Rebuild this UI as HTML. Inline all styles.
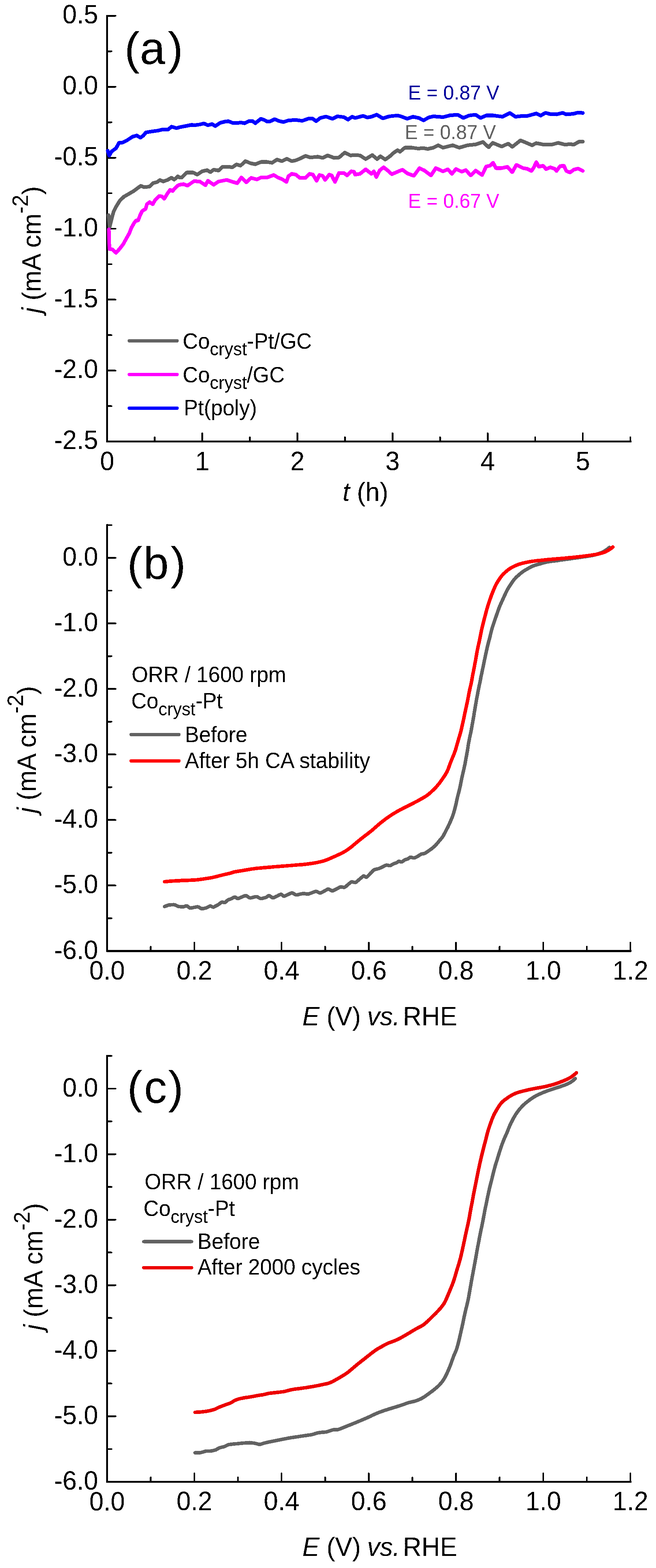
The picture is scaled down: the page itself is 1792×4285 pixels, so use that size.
<!DOCTYPE html>
<html><head><meta charset="utf-8"><title>Figure</title>
<style>html,body{margin:0;padding:0;background:#fff;}body{width:1792px;height:4285px;overflow:hidden;}</style>
</head><body>
<svg width="1792" height="4285" viewBox="0 0 1792 4285" style="display:block">
<rect width="1792" height="4285" fill="#fff"/>
<defs><filter id="crisp" x="0" y="0" width="100%" height="100%" color-interpolation-filters="sRGB"><feComponentTransfer><feFuncA type="discrete" tableValues="0 1"/></feComponentTransfer></filter></defs>
<g font-family='"Liberation Sans", Arial, sans-serif' filter="url(#crisp)">
<path d="M292.6,43.30 L292.6,1206.7 L1722.2,1206.7" fill="none" stroke="#000" stroke-width="4.8" stroke-linejoin="miter" stroke-linecap="square"/>
<line x1="292.6" y1="43.30" x2="315.6" y2="43.30" stroke="#000" stroke-width="4.6" stroke-linecap="round"/>
<line x1="292.6" y1="237.2" x2="315.6" y2="237.2" stroke="#000" stroke-width="4.6" stroke-linecap="round"/>
<line x1="292.6" y1="431.1" x2="315.6" y2="431.1" stroke="#000" stroke-width="4.6" stroke-linecap="round"/>
<line x1="292.6" y1="625.0" x2="315.6" y2="625.0" stroke="#000" stroke-width="4.6" stroke-linecap="round"/>
<line x1="292.6" y1="818.90" x2="315.6" y2="818.90" stroke="#000" stroke-width="4.6" stroke-linecap="round"/>
<line x1="292.6" y1="1012.8" x2="315.6" y2="1012.8" stroke="#000" stroke-width="4.6" stroke-linecap="round"/>
<line x1="292.6" y1="140.25" x2="304.6" y2="140.25" stroke="#000" stroke-width="4.6" stroke-linecap="round"/>
<line x1="292.6" y1="334.15" x2="304.6" y2="334.15" stroke="#000" stroke-width="4.6" stroke-linecap="round"/>
<line x1="292.6" y1="528.05" x2="304.6" y2="528.05" stroke="#000" stroke-width="4.6" stroke-linecap="round"/>
<line x1="292.6" y1="721.95" x2="304.6" y2="721.95" stroke="#000" stroke-width="4.6" stroke-linecap="round"/>
<line x1="292.6" y1="915.85" x2="304.6" y2="915.85" stroke="#000" stroke-width="4.6" stroke-linecap="round"/>
<line x1="292.6" y1="1109.75" x2="304.6" y2="1109.75" stroke="#000" stroke-width="4.6" stroke-linecap="round"/>
<line x1="552.5" y1="1206.7" x2="552.5" y2="1183.7" stroke="#000" stroke-width="4.6" stroke-linecap="round"/>
<line x1="812.4" y1="1206.7" x2="812.4" y2="1183.7" stroke="#000" stroke-width="4.6" stroke-linecap="round"/>
<line x1="1072.3" y1="1206.7" x2="1072.3" y2="1183.7" stroke="#000" stroke-width="4.6" stroke-linecap="round"/>
<line x1="1332.20" y1="1206.7" x2="1332.20" y2="1183.7" stroke="#000" stroke-width="4.6" stroke-linecap="round"/>
<line x1="1592.1" y1="1206.7" x2="1592.1" y2="1183.7" stroke="#000" stroke-width="4.6" stroke-linecap="round"/>
<line x1="422.55" y1="1206.7" x2="422.55" y2="1194.7" stroke="#000" stroke-width="4.6" stroke-linecap="round"/>
<line x1="682.45" y1="1206.7" x2="682.45" y2="1194.7" stroke="#000" stroke-width="4.6" stroke-linecap="round"/>
<line x1="942.35" y1="1206.7" x2="942.35" y2="1194.7" stroke="#000" stroke-width="4.6" stroke-linecap="round"/>
<line x1="1202.25" y1="1206.7" x2="1202.25" y2="1194.7" stroke="#000" stroke-width="4.6" stroke-linecap="round"/>
<line x1="1462.15" y1="1206.7" x2="1462.15" y2="1194.7" stroke="#000" stroke-width="4.6" stroke-linecap="round"/>
<line x1="1722.05" y1="1206.7" x2="1722.05" y2="1194.7" stroke="#000" stroke-width="4.6" stroke-linecap="round"/>
<text transform="translate(268.0,63.9) scale(1,1.04)" font-size="70" text-anchor="end" fill="#000" >0.5</text>
<text transform="translate(268.0,257.8) scale(1,1.04)" font-size="70" text-anchor="end" fill="#000" >0.0</text>
<text transform="translate(268.0,451.7) scale(1,1.04)" font-size="70" text-anchor="end" fill="#000" >-0.5</text>
<text transform="translate(268.0,645.6) scale(1,1.04)" font-size="70" text-anchor="end" fill="#000" >-1.0</text>
<text transform="translate(268.0,839.5) scale(1,1.04)" font-size="70" text-anchor="end" fill="#000" >-1.5</text>
<text transform="translate(268.0,1033.4) scale(1,1.04)" font-size="70" text-anchor="end" fill="#000" >-2.0</text>
<text transform="translate(268.0,1227.3) scale(1,1.04)" font-size="70" text-anchor="end" fill="#000" >-2.5</text>
<text transform="translate(292.6,1285.2) scale(1,1.04)" font-size="70" text-anchor="middle" fill="#000" >0</text>
<text transform="translate(552.5,1285.2) scale(1,1.04)" font-size="70" text-anchor="middle" fill="#000" >1</text>
<text transform="translate(812.4,1285.2) scale(1,1.04)" font-size="70" text-anchor="middle" fill="#000" >2</text>
<text transform="translate(1072.3,1285.2) scale(1,1.04)" font-size="70" text-anchor="middle" fill="#000" >3</text>
<text transform="translate(1332.2,1285.2) scale(1,1.04)" font-size="70" text-anchor="middle" fill="#000" >4</text>
<text transform="translate(1592.1,1285.2) scale(1,1.04)" font-size="70" text-anchor="middle" fill="#000" >5</text>
<text transform="translate(936,1368.5) scale(1,1.04)" font-size="70"><tspan font-style="italic">t</tspan> (h)</text>
<text transform="translate(110.7,856) rotate(-90) scale(1,1.04)" font-size="70"><tspan font-style="italic">j</tspan> (mA cm<tspan font-size="58" dy="-33">-2</tspan><tspan dy="33">)</tspan></text>
<text x="339.9 381.9 458.6" y="175.0" font-size="124.5">(a)</text>
<g fill="none" stroke-width="10" stroke-linejoin="round" stroke-linecap="round">
<polyline points="296.5,587.7 299.3,621.1 306.7,591.4 310.4,578.4 317.9,563.6 327.1,548.7 338.3,537.6 351.3,530.1 364.3,522.7 375.4,514.4 384.7,507.9 394.0,511.6 408.8,509.7 418.1,500.4 429.3,497.6 436.7,492.1 446.0,495.8 457.1,492.1 468.3,485.6 475.7,491.1 485.6,482.0 490.0,485.0 496.7,485.0 510.1,471.6 527.9,471.6 539.0,477.2 552.4,468.2 565.8,464.9 574.7,470.5 583.6,463.8 597.0,466.0 608.1,456.0 623.7,456.0 634.8,457.1 646.0,449.3 657.1,452.6 670.5,440.4 683.9,446.0 697.2,448.9 712.8,442.6 730.0,442.6 743.4,444.9 756.7,436.0 770.1,440.4 783.5,433.7 796.9,440.4 808.0,438.2 819.1,433.7 834.7,425.9 848.1,430.4 868.2,428.2 881.5,431.5 894.9,424.8 912.7,431.5 926.1,430.4 941.7,417.0 957.3,424.8 970.0,423.7 983.4,424.8 999.0,434.8 1016.8,423.7 1030.2,434.8 1039.1,427.0 1052.5,436.0 1063.6,428.2 1074.7,418.1 1085.9,410.3 1092.6,414.8 1105.9,403.6 1126.0,403.6 1141.6,405.9 1157.2,404.8 1168.3,407.0 1183.9,403.6 1197.3,397.0 1210.0,403.6 1236.7,397.0 1254.6,403.6 1276.9,397.0 1299.1,394.7 1319.2,388.0 1334.8,402.5 1345.9,390.3 1370.4,400.3 1388.3,392.5 1399.4,401.4 1421.7,383.6 1440.0,391.1 1453.4,397.0 1465.1,391.1 1481.8,394.5 1506.9,395.3 1525.2,390.3 1543.6,395.3 1557.0,393.7 1567.0,395.3 1582.1,387.0 1592.1,387.0" stroke="#626262"/>
<polyline points="297.4,626.7 298.4,665.7 299.3,680.6 306.7,681.5 316.9,690.8 327.1,679.6 336.4,667.6 345.7,650.8 353.1,637.8 358.7,623.0 366.1,610.0 371.7,602.6 377.3,602.6 382.9,587.7 388.4,576.6 397.7,571.0 401.4,558.0 408.8,552.4 417.2,558.0 423.7,546.9 434.8,535.7 442.3,536.6 448.8,543.1 457.1,529.2 464.6,519.0 472.0,521.8 477.6,514.4 485.0,507.9 490.0,505.0 501.1,503.2 512.3,507.2 530.1,495.0 545.7,496.1 561.3,506.1 568.0,493.9 583.6,505.0 597.0,496.1 619.2,491.6 632.6,496.1 648.2,500.6 659.4,485.0 672.7,498.3 686.1,486.1 701.7,490.5 712.8,485.0 730.0,485.0 747.8,478.3 759.0,485.0 770.1,489.4 782.4,497.2 787.9,481.6 796.9,475.0 808.0,477.2 819.1,486.1 834.7,486.1 845.9,475.0 854.8,477.2 864.8,493.9 872.6,478.3 881.5,480.5 888.2,491.7 899.4,477.2 906.0,479.4 915.0,497.2 926.1,472.7 939.5,472.7 948.4,479.4 959.5,468.3 967.3,469.4 970.0,477.2 983.4,475.0 999.0,462.7 1014.6,475.0 1021.3,468.3 1027.9,483.9 1036.9,466.0 1048.0,457.1 1059.1,466.0 1070.3,476.1 1085.9,469.4 1099.2,463.8 1112.6,473.8 1130.4,480.5 1146.0,459.4 1159.4,466.0 1177.2,479.4 1190.6,459.4 1210.0,468.3 1223.4,462.7 1234.5,475.0 1245.7,461.6 1261.3,469.4 1272.4,464.9 1285.8,479.4 1299.1,466.0 1317.0,478.3 1328.1,454.9 1339.2,452.7 1347.0,444.9 1354.8,459.4 1370.4,459.4 1386.0,456.0 1399.4,470.5 1410.6,450.4 1428.4,459.4 1440.0,461.3 1451.7,467.2 1458.4,457.2 1465.1,443.0 1471.8,455.5 1483.5,453.0 1491.8,462.2 1503.5,457.2 1515.2,461.3 1520.2,467.2 1530.3,453.8 1540.3,453.0 1547.0,467.2 1557.0,471.4 1567.0,463.9 1578.7,460.5 1592.1,466.9" stroke="#ff00ff"/>
<polyline points="294.4,412.0 298.4,425.4 305.0,413.7 316.8,405.3 325.1,390.3 335.1,389.6 346.8,383.6 361.9,373.6 373.6,370.2 383.6,376.3 392.0,370.2 398.6,361.9 412.0,359.6 432.1,356.9 445.4,353.5 458.8,354.2 468.8,346.2 482.2,350.2 490.0,347.9 501.1,345.7 512.3,343.5 523.4,341.2 534.6,341.9 545.7,340.1 556.9,337.4 568.0,342.3 579.1,339.0 588.0,344.6 601.4,335.7 614.8,332.3 623.7,331.2 634.8,335.7 646.0,335.7 659.4,335.2 668.3,336.8 679.4,331.2 690.6,331.2 697.2,336.8 712.8,324.5 721.8,327.9 730.0,332.3 736.7,332.3 750.1,325.7 763.4,331.2 774.6,333.5 787.9,329.0 808.0,327.9 825.8,330.1 841.4,324.5 852.6,323.4 863.7,331.2 874.8,322.3 890.4,318.5 908.3,324.5 921.6,317.9 939.5,320.1 950.6,326.8 961.8,319.0 970.0,322.3 992.3,316.7 1003.4,321.2 1014.6,319.0 1029.1,313.4 1045.8,323.4 1063.6,317.9 1085.9,315.6 1094.8,317.9 1112.6,324.5 1128.2,319.0 1143.8,322.3 1157.2,329.0 1170.6,321.2 1183.9,317.9 1210.0,320.1 1227.8,315.6 1250.1,313.4 1265.7,322.3 1281.3,315.6 1299.1,313.4 1312.5,322.3 1328.1,315.6 1348.2,315.6 1372.7,319.0 1392.7,308.9 1408.3,319.0 1428.4,316.7 1440.0,316.8 1450.0,314.3 1465.1,310.1 1476.8,315.9 1490.1,308.4 1503.5,311.8 1520.2,312.6 1536.9,308.4 1547.0,312.6 1567.0,310.9 1578.7,307.6 1592.1,308.7" stroke="#0000ff"/>
</g>
<text transform="translate(1115.0,271.8) scale(1,1.04)" font-size="53" text-anchor="start" fill="#00009c" >E = 0.87 V</text>
<text transform="translate(1106.0,379.9) scale(1,1.04)" font-size="53" text-anchor="start" fill="#626262" >E = 0.87 V</text>
<text transform="translate(1115.0,567.7) scale(1,1.04)" font-size="53" text-anchor="start" fill="#ff00ff" >E = 0.67 V</text>
<line x1="353" y1="931.5" x2="484" y2="931.5" stroke="#626262" stroke-width="9" stroke-linecap="round"/>
<text transform="translate(499,952.5) scale(1,1.04)" font-size="58">Co<tspan font-size="48" dy="18">cryst</tspan><tspan dy="-18">-Pt/GC</tspan></text>
<line x1="353" y1="1023.5" x2="484" y2="1023.5" stroke="#ff00ff" stroke-width="9" stroke-linecap="round"/>
<text transform="translate(499,1044.5) scale(1,1.04)" font-size="58">Co<tspan font-size="48" dy="18">cryst</tspan><tspan dy="-18">/GC</tspan></text>
<line x1="353" y1="1115.4" x2="484" y2="1115.4" stroke="#0000ff" stroke-width="9" stroke-linecap="round"/>
<text transform="translate(502.0,1135.4) scale(1,1.04)" font-size="58" text-anchor="start" fill="#000" >Pt(poly)</text>
<path d="M292.6,1434.96 L292.6,2598.98 L1722.2,2598.98" fill="none" stroke="#000" stroke-width="4.8" stroke-linejoin="miter" stroke-linecap="square"/>
<line x1="292.6" y1="1524.5" x2="315.6" y2="1524.5" stroke="#000" stroke-width="4.6" stroke-linecap="round"/>
<line x1="292.6" y1="1703.58" x2="315.6" y2="1703.58" stroke="#000" stroke-width="4.6" stroke-linecap="round"/>
<line x1="292.6" y1="1882.66" x2="315.6" y2="1882.66" stroke="#000" stroke-width="4.6" stroke-linecap="round"/>
<line x1="292.6" y1="2061.74" x2="315.6" y2="2061.74" stroke="#000" stroke-width="4.6" stroke-linecap="round"/>
<line x1="292.6" y1="2240.82" x2="315.6" y2="2240.82" stroke="#000" stroke-width="4.6" stroke-linecap="round"/>
<line x1="292.6" y1="2419.9" x2="315.6" y2="2419.9" stroke="#000" stroke-width="4.6" stroke-linecap="round"/>
<line x1="292.6" y1="1434.96" x2="304.6" y2="1434.96" stroke="#000" stroke-width="4.6" stroke-linecap="round"/>
<line x1="292.6" y1="1614.04" x2="304.6" y2="1614.04" stroke="#000" stroke-width="4.6" stroke-linecap="round"/>
<line x1="292.6" y1="1793.12" x2="304.6" y2="1793.12" stroke="#000" stroke-width="4.6" stroke-linecap="round"/>
<line x1="292.6" y1="1972.2" x2="304.6" y2="1972.2" stroke="#000" stroke-width="4.6" stroke-linecap="round"/>
<line x1="292.6" y1="2151.28" x2="304.6" y2="2151.28" stroke="#000" stroke-width="4.6" stroke-linecap="round"/>
<line x1="292.6" y1="2330.36" x2="304.6" y2="2330.36" stroke="#000" stroke-width="4.6" stroke-linecap="round"/>
<line x1="292.6" y1="2509.44" x2="304.6" y2="2509.44" stroke="#000" stroke-width="4.6" stroke-linecap="round"/>
<line x1="530.86" y1="2598.98" x2="530.86" y2="2575.98" stroke="#000" stroke-width="4.6" stroke-linecap="round"/>
<line x1="769.12" y1="2598.98" x2="769.12" y2="2575.98" stroke="#000" stroke-width="4.6" stroke-linecap="round"/>
<line x1="1007.38" y1="2598.98" x2="1007.38" y2="2575.98" stroke="#000" stroke-width="4.6" stroke-linecap="round"/>
<line x1="1245.64" y1="2598.98" x2="1245.64" y2="2575.98" stroke="#000" stroke-width="4.6" stroke-linecap="round"/>
<line x1="1483.9" y1="2598.98" x2="1483.9" y2="2575.98" stroke="#000" stroke-width="4.6" stroke-linecap="round"/>
<line x1="1722.16" y1="2598.98" x2="1722.16" y2="2575.98" stroke="#000" stroke-width="4.6" stroke-linecap="round"/>
<line x1="411.73" y1="2598.98" x2="411.73" y2="2586.98" stroke="#000" stroke-width="4.6" stroke-linecap="round"/>
<line x1="649.99" y1="2598.98" x2="649.99" y2="2586.98" stroke="#000" stroke-width="4.6" stroke-linecap="round"/>
<line x1="888.25" y1="2598.98" x2="888.25" y2="2586.98" stroke="#000" stroke-width="4.6" stroke-linecap="round"/>
<line x1="1126.51" y1="2598.98" x2="1126.51" y2="2586.98" stroke="#000" stroke-width="4.6" stroke-linecap="round"/>
<line x1="1364.77" y1="2598.98" x2="1364.77" y2="2586.98" stroke="#000" stroke-width="4.6" stroke-linecap="round"/>
<line x1="1603.03" y1="2598.98" x2="1603.03" y2="2586.98" stroke="#000" stroke-width="4.6" stroke-linecap="round"/>
<text transform="translate(268.0,1546.1) scale(1,1.04)" font-size="70" text-anchor="end" fill="#000" >0.0</text>
<text transform="translate(268.0,1725.2) scale(1,1.04)" font-size="70" text-anchor="end" fill="#000" >-1.0</text>
<text transform="translate(268.0,1904.3) scale(1,1.04)" font-size="70" text-anchor="end" fill="#000" >-2.0</text>
<text transform="translate(268.0,2083.3) scale(1,1.04)" font-size="70" text-anchor="end" fill="#000" >-3.0</text>
<text transform="translate(268.0,2262.4) scale(1,1.04)" font-size="70" text-anchor="end" fill="#000" >-4.0</text>
<text transform="translate(268.0,2441.5) scale(1,1.04)" font-size="70" text-anchor="end" fill="#000" >-5.0</text>
<text transform="translate(268.0,2620.6) scale(1,1.04)" font-size="70" text-anchor="end" fill="#000" >-6.0</text>
<text transform="translate(292.6,2677.0) scale(1,1.04)" font-size="70" text-anchor="middle" fill="#000" >0.0</text>
<text transform="translate(530.9,2677.0) scale(1,1.04)" font-size="70" text-anchor="middle" fill="#000" >0.2</text>
<text transform="translate(769.1,2677.0) scale(1,1.04)" font-size="70" text-anchor="middle" fill="#000" >0.4</text>
<text transform="translate(1007.4,2677.0) scale(1,1.04)" font-size="70" text-anchor="middle" fill="#000" >0.6</text>
<text transform="translate(1245.6,2677.0) scale(1,1.04)" font-size="70" text-anchor="middle" fill="#000" >0.8</text>
<text transform="translate(1483.9,2677.0) scale(1,1.04)" font-size="70" text-anchor="middle" fill="#000" >1.0</text>
<text transform="translate(1722.2,2677.0) scale(1,1.04)" font-size="70" text-anchor="middle" fill="#000" >1.2</text>
<text transform="translate(826,2802.0) scale(1,1.04)" font-size="70"><tspan font-style="italic">E</tspan> (V) <tspan font-style="italic" dx="-2">vs.</tspan><tspan dx="-11"> RHE</tspan></text>
<text transform="translate(97.2,2222) rotate(-90) scale(1,1.04)" font-size="70"><tspan font-style="italic">j</tspan> (mA cm<tspan font-size="58" dy="-33">-2</tspan><tspan dy="33">)</tspan></text>
<text x="347.6 391.8 465.9" y="1582.0" font-size="124.5">(b)</text>
<g fill="none" stroke-width="9.6" stroke-linejoin="round" stroke-linecap="round">
<path d="M449.5,2477.4 L452.3,2476.3 L455.1,2475.3 L457.9,2474.2 L460.7,2473.2 L463.7,2472.7 L466.7,2472.6 L469.6,2472.5 L472.6,2472.4 L475.6,2472.4 L478.4,2473.2 L481.2,2474.4 L483.9,2475.7 L486.6,2476.9 L489.5,2477.5 L492.5,2477.7 L495.5,2477.9 L498.5,2478.1 L501.4,2477.9 L504.2,2476.9 L507.0,2475.8 L509.7,2475.2 L512.1,2476.4 L514.4,2478.3 L516.8,2480.2 L519.2,2481.6 L522.0,2481.4 L524.9,2480.8 L527.9,2480.1 L530.8,2479.5 L533.8,2479.0 L536.7,2478.6 L539.7,2478.1 L542.4,2478.6 L545.0,2480.1 L547.5,2481.8 L550.0,2483.2 L552.8,2483.4 L555.7,2482.8 L558.7,2482.2 L561.6,2481.5 L564.4,2480.6 L567.1,2479.3 L569.7,2477.9 L572.4,2476.5 L575.0,2475.8 L577.6,2476.9 L580.2,2478.3 L582.8,2479.0 L585.5,2477.9 L588.1,2476.5 L590.8,2475.1 L593.4,2473.7 L596.1,2472.3 L598.5,2470.6 L600.9,2468.8 L603.2,2466.9 L605.6,2465.3 L608.2,2465.2 L611.0,2466.1 L613.7,2466.6 L616.1,2465.1 L618.3,2463.1 L620.5,2461.1 L622.8,2459.3 L625.5,2458.2 L628.4,2457.4 L631.2,2456.3 L633.9,2454.9 L636.5,2453.5 L639.1,2452.0 L641.7,2451.2 L644.1,2452.4 L646.6,2454.2 L649.0,2455.5 L651.7,2455.0 L654.5,2453.9 L657.3,2452.7 L660.0,2451.5 L662.8,2450.4 L665.6,2449.2 L668.3,2448.1 L671.1,2447.3 L673.6,2448.3 L676.1,2450.0 L678.6,2451.7 L681.1,2453.3 L683.8,2453.9 L686.7,2453.3 L689.6,2452.6 L692.5,2451.9 L695.4,2451.2 L698.3,2450.5 L701.2,2450.2 L703.8,2451.3 L706.4,2452.8 L709.1,2454.3 L711.7,2455.5 L714.5,2455.5 L717.4,2454.8 L720.3,2454.1 L723.3,2453.4 L726.1,2452.5 L728.7,2451.2 L731.1,2449.4 L733.5,2447.8 L736.0,2447.9 L738.4,2449.4 L740.9,2451.1 L743.4,2452.8 L746.0,2453.7 L748.6,2452.8 L751.3,2451.5 L754.0,2450.1 L756.7,2448.8 L759.3,2447.4 L762.0,2446.1 L764.7,2444.8 L767.3,2443.8 L769.7,2444.7 L771.9,2446.7 L774.2,2448.6 L776.6,2449.1 L779.3,2448.0 L782.0,2446.7 L784.8,2445.4 L787.5,2444.2 L790.2,2442.9 L792.9,2441.6 L795.6,2440.4 L798.3,2440.1 L800.9,2441.3 L803.5,2442.9 L806.0,2444.4 L808.7,2445.6 L811.5,2445.5 L814.4,2444.8 L817.3,2444.1 L820.3,2443.4 L823.2,2442.7 L826.1,2442.1 L829.0,2441.6 L832.0,2441.9 L834.9,2442.5 L837.8,2443.1 L840.7,2443.5 L843.6,2442.8 L846.4,2441.8 L849.2,2440.7 L852.0,2439.7 L854.8,2438.6 L857.6,2437.5 L860.4,2436.5 L863.2,2435.8 L865.9,2436.6 L868.5,2438.0 L871.2,2439.4 L873.8,2440.5 L876.5,2440.1 L879.1,2438.7 L881.7,2437.3 L884.4,2435.9 L887.0,2434.4 L889.6,2433.0 L892.3,2431.5 L894.9,2430.1 L897.5,2429.7 L900.1,2430.8 L902.7,2432.3 L905.3,2433.8 L908.0,2434.8 L910.6,2433.9 L913.2,2432.5 L915.9,2431.1 L918.5,2429.7 L921.2,2428.3 L923.8,2426.9 L926.5,2425.4 L929.1,2424.1 L932.0,2423.7 L934.9,2424.2 L937.9,2424.7 L940.7,2424.9 L943.2,2423.7 L945.5,2421.8 L947.8,2419.8 L950.0,2417.9 L952.3,2415.9 L954.6,2414.0 L956.9,2412.0 L959.2,2410.2 L961.8,2409.9 L964.7,2410.6 L967.6,2411.3 L970.4,2411.8 L972.9,2410.7 L975.2,2408.8 L977.4,2406.8 L979.7,2404.9 L982.0,2402.9 L984.2,2400.9 L986.5,2399.0 L988.8,2397.0 L991.0,2395.1 L993.3,2393.7 L995.8,2394.7 L998.2,2396.4 L1000.6,2397.5 L1002.8,2396.2 L1004.9,2394.0 L1007.0,2391.9 L1009.1,2389.7 L1011.2,2387.6 L1013.3,2385.4 L1015.4,2383.3 L1017.5,2381.1 L1019.6,2379.0 L1021.8,2377.1 L1024.5,2376.1 L1027.4,2375.4 L1030.4,2374.6 L1033.3,2373.9 L1036.2,2373.1 L1038.9,2371.9 L1041.6,2370.6 L1044.3,2369.3 L1046.9,2367.9 L1049.6,2366.6 L1052.3,2365.2 L1055.0,2364.2 L1057.9,2364.4 L1060.8,2365.1 L1063.7,2365.6 L1066.5,2365.4 L1069.1,2364.0 L1071.7,2362.4 L1074.3,2361.0 L1077.1,2359.9 L1079.9,2359.0 L1082.8,2358.0 L1085.3,2356.5 L1087.4,2354.5 L1089.8,2353.7 L1092.6,2354.5 L1095.4,2355.5 L1098.0,2355.3 L1100.5,2353.7 L1102.9,2351.9 L1105.3,2350.2 L1108.0,2349.0 L1110.9,2348.2 L1113.7,2347.3 L1116.2,2345.7 L1118.6,2343.9 L1121.1,2342.5 L1123.8,2342.8 L1126.6,2343.7 L1129.5,2344.6 L1132.2,2344.3 L1135.0,2343.2 L1137.7,2341.9 L1140.4,2340.6 L1142.9,2339.0 L1145.4,2337.3 L1147.9,2335.7 L1150.5,2334.1 L1153.3,2333.4 L1156.3,2333.0 L1159.2,2332.5 L1161.8,2331.3 L1164.3,2329.7 L1166.8,2328.0 L1169.3,2326.3 L1171.7,2324.6 L1174.2,2322.9 L1176.6,2321.1 L1179.0,2319.3 L1181.3,2317.4 L1183.7,2315.5 L1185.9,2313.6 L1188.2,2311.6 L1190.3,2309.5 L1192.3,2307.3 L1194.2,2305.0 L1196.1,2302.7 L1198.0,2300.4 L1199.9,2298.0 L1201.8,2295.7 L1203.8,2293.5 L1205.7,2291.2 L1207.6,2288.9 L1209.4,2286.5 L1211.0,2284.0 L1212.4,2281.4 L1213.8,2278.8 L1215.1,2276.1 L1216.5,2273.4 L1217.9,2270.8 L1219.3,2268.1 L1220.7,2265.4 L1222.0,2262.8 L1223.4,2260.1 L1224.7,2257.4 L1226.0,2254.7 L1227.3,2252.0 L1228.5,2249.3 L1229.7,2246.5 L1230.9,2243.8 L1232.1,2241.0 L1233.2,2238.2 L1234.4,2235.5 L1235.5,2232.7 L1236.6,2229.9 L1237.6,2227.1 L1238.5,2224.3 L1239.4,2221.4 L1240.2,2218.5 L1241.0,2215.6 L1241.8,2212.7 L1242.6,2209.8 L1243.3,2206.9 L1244.0,2204.0 L1244.7,2201.1 L1245.4,2198.2 L1246.1,2195.3 L1246.7,2192.3 L1247.3,2189.4 L1248.0,2186.5 L1248.6,2183.5 L1249.3,2180.6 L1250.0,2177.7 L1250.7,2174.8 L1251.4,2171.9 L1252.2,2169.0 L1252.9,2166.1 L1253.7,2163.2 L1254.4,2160.2 L1255.1,2157.3 L1255.8,2154.4 L1256.5,2151.5 L1257.1,2148.6 L1257.8,2145.6 L1258.3,2142.7 L1258.9,2139.7 L1259.5,2136.8 L1260.0,2133.9 L1260.6,2130.9 L1261.2,2128.0 L1261.8,2125.0 L1262.5,2122.1 L1263.1,2119.2 L1263.8,2116.3 L1264.5,2113.3 L1265.2,2110.4 L1265.8,2107.5 L1266.5,2104.6 L1267.2,2101.6 L1267.9,2098.7 L1268.5,2095.8 L1269.1,2092.9 L1269.8,2089.9 L1270.3,2087.0 L1270.9,2084.0 L1271.4,2081.1 L1272.0,2078.1 L1272.5,2075.2 L1273.0,2072.2 L1273.6,2069.3 L1274.1,2066.3 L1274.7,2063.4 L1275.2,2060.4 L1275.7,2057.5 L1276.3,2054.5 L1276.8,2051.6 L1277.2,2048.6 L1277.7,2045.6 L1278.2,2042.7 L1278.6,2039.7 L1279.1,2036.8 L1279.6,2033.8 L1280.1,2030.8 L1280.7,2027.9 L1281.2,2024.9 L1281.8,2022.0 L1282.3,2019.0 L1282.9,2016.1 L1283.5,2013.2 L1284.2,2010.2 L1284.8,2007.3 L1285.5,2004.4 L1286.1,2001.4 L1286.7,1998.5 L1287.2,1995.6 L1287.8,1992.6 L1288.3,1989.7 L1288.9,1986.7 L1289.4,1983.8 L1289.9,1980.8 L1290.5,1977.9 L1291.0,1974.9 L1291.5,1971.9 L1292.1,1969.0 L1292.6,1966.0 L1293.1,1963.1 L1293.6,1960.1 L1294.1,1957.2 L1294.6,1954.2 L1295.1,1951.2 L1295.5,1948.3 L1296.0,1945.3 L1296.5,1942.4 L1297.0,1939.4 L1297.5,1936.4 L1298.0,1933.5 L1298.5,1930.5 L1299.0,1927.6 L1299.5,1924.6 L1300.0,1921.7 L1300.5,1918.7 L1301.0,1915.7 L1301.6,1912.8 L1302.1,1909.8 L1302.7,1906.9 L1303.2,1903.9 L1303.8,1901.0 L1304.3,1898.1 L1304.9,1895.1 L1305.4,1892.2 L1306.0,1889.2 L1306.6,1886.3 L1307.1,1883.3 L1307.7,1880.4 L1308.3,1877.4 L1308.9,1874.5 L1309.6,1871.6 L1310.2,1868.6 L1310.8,1865.7 L1311.4,1862.8 L1312.0,1859.8 L1312.6,1856.9 L1313.1,1853.9 L1313.7,1851.0 L1314.3,1848.0 L1314.9,1845.1 L1315.5,1842.2 L1316.1,1839.2 L1316.8,1836.3 L1317.4,1833.4 L1318.0,1830.4 L1318.6,1827.5 L1319.2,1824.6 L1319.9,1821.6 L1320.5,1818.7 L1321.1,1815.8 L1321.7,1812.8 L1322.3,1809.9 L1322.9,1806.9 L1323.5,1804.0 L1324.1,1801.1 L1324.7,1798.1 L1325.3,1795.2 L1325.9,1792.2 L1326.6,1789.3 L1327.2,1786.4 L1327.9,1783.5 L1328.5,1780.5 L1329.2,1777.6 L1329.8,1774.7 L1330.5,1771.8 L1331.1,1768.8 L1331.8,1765.9 L1332.5,1763.0 L1333.2,1760.1 L1334.0,1757.2 L1334.7,1754.3 L1335.5,1751.4 L1336.3,1748.5 L1337.1,1745.6 L1337.9,1742.7 L1338.6,1739.8 L1339.3,1736.9 L1339.9,1733.9 L1340.6,1731.0 L1341.3,1728.1 L1342.1,1725.2 L1342.8,1722.3 L1343.6,1719.4 L1344.5,1716.5 L1345.3,1713.7 L1346.2,1710.8 L1347.1,1708.0 L1348.1,1705.1 L1349.0,1702.3 L1350.0,1699.4 L1350.9,1696.6 L1351.9,1693.7 L1352.9,1690.9 L1353.9,1688.1 L1354.9,1685.2 L1355.9,1682.4 L1356.8,1679.6 L1357.8,1676.7 L1358.8,1673.9 L1359.8,1671.1 L1360.8,1668.2 L1361.8,1665.4 L1362.9,1662.6 L1363.9,1659.8 L1365.0,1657.0 L1366.2,1654.3 L1367.4,1651.5 L1368.6,1648.8 L1369.8,1646.0 L1371.1,1643.3 L1372.3,1640.6 L1373.6,1637.9 L1374.8,1635.1 L1376.1,1632.4 L1377.3,1629.7 L1378.5,1626.9 L1379.8,1624.2 L1381.0,1621.5 L1382.3,1618.8 L1383.7,1616.1 L1385.1,1613.4 L1386.5,1610.8 L1388.0,1608.2 L1389.6,1605.7 L1391.2,1603.1 L1392.8,1600.6 L1394.4,1598.1 L1396.1,1595.6 L1397.7,1593.1 L1399.4,1590.6 L1401.1,1588.2 L1402.9,1585.8 L1404.8,1583.4 L1406.7,1581.2 L1408.8,1579.0 L1410.9,1576.9 L1413.1,1574.9 L1415.3,1572.9 L1417.6,1570.9 L1419.8,1568.9 L1422.1,1567.0 L1424.4,1565.1 L1426.8,1563.3 L1429.2,1561.5 L1431.7,1559.9 L1434.2,1558.3 L1436.8,1556.8 L1439.4,1555.3 L1442.0,1553.8 L1444.6,1552.3 L1447.3,1550.9 L1449.9,1549.5 L1452.6,1548.2 L1455.3,1547.0 L1458.1,1545.9 L1460.9,1544.9 L1463.7,1544.0 L1466.6,1543.2 L1469.5,1542.4 L1472.4,1541.6 L1475.3,1540.8 L1478.2,1540.0 L1481.0,1539.1 L1483.9,1538.3 L1486.8,1537.5 L1489.7,1536.8 L1492.6,1536.1 L1495.5,1535.5 L1498.5,1535.0 L1501.4,1534.6 L1504.4,1534.2 L1507.4,1533.8 L1510.4,1533.5 L1513.3,1533.1 L1516.3,1532.7 L1519.3,1532.3 L1522.3,1531.9 L1525.2,1531.4 L1528.2,1531.0 L1531.2,1530.6 L1534.1,1530.2 L1537.1,1529.8 L1540.1,1529.4 L1543.1,1529.0 L1546.0,1528.5 L1549.0,1528.1 L1552.0,1527.7 L1554.9,1527.3 L1557.9,1526.9 L1560.9,1526.5 L1563.9,1526.0 L1566.8,1525.6 L1569.8,1525.2 L1572.8,1524.8 L1575.7,1524.4 L1578.7,1524.0 L1581.7,1523.5 L1584.6,1523.1 L1587.6,1522.7 L1590.6,1522.2 L1593.6,1521.8 L1596.5,1521.3 L1599.5,1520.9 L1602.5,1520.5 L1605.4,1520.0 L1608.4,1519.6 L1611.4,1519.1 L1614.3,1518.6 L1617.3,1518.1 L1620.2,1517.5 L1623.1,1516.8 L1626.0,1516.1 L1628.8,1515.2 L1631.7,1514.3 L1634.5,1513.3 L1637.3,1512.3 L1640.1,1511.3 L1642.9,1510.1 L1645.6,1508.9 L1648.3,1507.6 L1650.9,1506.2 L1653.4,1504.6 L1655.8,1503.0 L1658.1,1501.5 L1660.1,1500.0 L1661.7,1498.7 L1664.9,1496.1 L1664.9,1496.1" stroke="#626262"/>
<path d="M449.5,2409.6 L452.7,2409.3 L455.5,2409.0 L458.5,2408.7 L461.4,2408.4 L464.4,2408.1 L467.4,2407.8 L470.4,2407.7 L473.4,2407.5 L476.4,2407.4 L479.4,2407.2 L482.4,2407.1 L485.4,2406.9 L488.4,2406.8 L491.4,2406.6 L494.4,2406.4 L497.4,2406.3 L500.4,2406.1 L503.4,2406.0 L506.4,2405.9 L509.4,2405.8 L512.4,2405.7 L515.4,2405.6 L518.4,2405.5 L521.4,2405.4 L524.3,2405.3 L527.3,2405.1 L530.3,2404.9 L533.3,2404.7 L536.3,2404.5 L539.3,2404.2 L542.3,2403.9 L545.3,2403.5 L548.2,2403.1 L551.2,2402.6 L554.2,2402.2 L557.1,2401.7 L560.1,2401.3 L563.1,2400.8 L566.0,2400.4 L569.0,2399.9 L572.0,2399.5 L574.9,2399.0 L577.9,2398.5 L580.8,2397.9 L583.7,2397.2 L586.6,2396.5 L589.6,2395.8 L592.5,2395.1 L595.4,2394.3 L598.3,2393.6 L601.2,2392.9 L604.1,2392.1 L607.0,2391.4 L609.9,2390.7 L612.8,2389.9 L615.7,2389.2 L618.7,2388.6 L621.6,2387.9 L624.5,2387.3 L627.5,2386.6 L630.3,2385.8 L633.2,2384.9 L636.0,2383.9 L638.9,2383.0 L641.8,2382.4 L644.7,2381.9 L647.7,2381.4 L650.7,2380.9 L653.6,2380.4 L656.6,2379.9 L659.5,2379.4 L662.5,2379.0 L665.5,2378.5 L668.4,2378.0 L671.4,2377.5 L674.3,2377.0 L677.3,2376.5 L680.3,2376.1 L683.2,2375.6 L686.2,2375.1 L689.1,2374.6 L692.1,2374.2 L695.1,2373.7 L698.0,2373.3 L701.0,2373.0 L704.0,2372.7 L707.0,2372.5 L710.0,2372.2 L713.0,2371.9 L716.0,2371.7 L719.0,2371.4 L721.9,2371.2 L724.9,2370.9 L727.9,2370.6 L730.9,2370.4 L733.9,2370.1 L736.9,2369.8 L739.9,2369.6 L742.9,2369.3 L745.9,2369.1 L748.8,2368.8 L751.8,2368.5 L754.8,2368.3 L757.8,2368.0 L760.8,2367.8 L763.8,2367.6 L766.8,2367.4 L769.8,2367.1 L772.8,2366.9 L775.8,2366.7 L778.8,2366.5 L781.7,2366.2 L784.7,2366.0 L787.7,2365.8 L790.7,2365.5 L793.7,2365.3 L796.7,2365.0 L799.7,2364.7 L802.7,2364.5 L805.7,2364.2 L808.6,2364.0 L811.6,2363.7 L814.6,2363.5 L817.6,2363.3 L820.6,2363.1 L823.6,2362.8 L826.6,2362.6 L829.6,2362.3 L832.6,2362.0 L835.5,2361.7 L838.5,2361.3 L841.5,2360.9 L844.5,2360.5 L847.4,2360.1 L850.4,2359.7 L853.4,2359.2 L856.3,2358.8 L859.3,2358.3 L862.2,2357.7 L865.2,2357.2 L868.1,2356.6 L871.1,2355.9 L874.0,2355.3 L876.9,2354.6 L879.8,2353.9 L882.7,2353.1 L885.6,2352.3 L888.4,2351.3 L891.2,2350.3 L894.0,2349.2 L896.7,2348.1 L899.5,2346.9 L902.3,2345.7 L905.0,2344.5 L907.8,2343.3 L910.5,2342.1 L913.3,2340.9 L916.0,2339.7 L918.7,2338.4 L921.5,2337.2 L924.2,2335.9 L926.9,2334.7 L929.6,2333.4 L932.3,2332.1 L935.0,2330.8 L937.6,2329.4 L940.2,2327.9 L942.8,2326.4 L945.3,2324.7 L947.8,2323.1 L950.3,2321.4 L952.7,2319.6 L955.1,2317.9 L957.5,2316.1 L959.9,2314.2 L962.2,2312.4 L964.6,2310.5 L966.9,2308.5 L969.1,2306.6 L971.4,2304.7 L973.7,2302.7 L976.0,2300.8 L978.3,2298.9 L980.7,2297.0 L983.0,2295.1 L985.3,2293.2 L987.7,2291.3 L990.0,2289.5 L992.4,2287.6 L994.7,2285.8 L997.1,2283.9 L999.5,2282.1 L1001.9,2280.3 L1004.3,2278.5 L1006.7,2276.7 L1009.0,2274.9 L1011.4,2273.0 L1013.7,2271.1 L1016.1,2269.2 L1018.3,2267.3 L1020.6,2265.3 L1022.8,2263.3 L1025.1,2261.3 L1027.3,2259.3 L1029.6,2257.4 L1031.9,2255.4 L1034.1,2253.4 L1036.4,2251.5 L1038.8,2249.6 L1041.1,2247.7 L1043.4,2245.9 L1045.8,2244.0 L1048.1,2242.1 L1050.5,2240.3 L1052.9,2238.5 L1055.3,2236.7 L1057.8,2235.0 L1060.2,2233.3 L1062.7,2231.6 L1065.1,2229.9 L1067.6,2228.2 L1070.1,2226.5 L1072.7,2224.9 L1075.2,2223.3 L1077.8,2221.8 L1080.4,2220.3 L1082.9,2218.7 L1085.5,2217.2 L1088.2,2215.8 L1090.8,2214.3 L1093.4,2212.9 L1096.1,2211.6 L1098.8,2210.2 L1101.5,2208.8 L1104.1,2207.5 L1106.8,2206.1 L1109.5,2204.8 L1112.2,2203.5 L1114.9,2202.1 L1117.5,2200.8 L1120.2,2199.4 L1122.9,2198.1 L1125.6,2196.7 L1128.2,2195.4 L1130.9,2194.0 L1133.6,2192.6 L1136.2,2191.2 L1138.9,2189.8 L1141.5,2188.3 L1144.1,2186.9 L1146.8,2185.4 L1149.4,2184.0 L1152.0,2182.5 L1154.6,2181.0 L1157.2,2179.5 L1159.8,2178.0 L1162.3,2176.5 L1164.8,2174.8 L1167.3,2173.1 L1169.6,2171.3 L1172.0,2169.4 L1174.2,2167.5 L1176.5,2165.5 L1178.7,2163.5 L1180.9,2161.4 L1183.1,2159.3 L1185.2,2157.2 L1187.3,2155.1 L1189.4,2153.0 L1191.4,2150.8 L1193.4,2148.5 L1195.3,2146.2 L1197.3,2143.9 L1199.1,2141.6 L1201.0,2139.2 L1202.8,2136.8 L1204.5,2134.4 L1206.3,2132.0 L1208.0,2129.5 L1209.7,2127.0 L1211.4,2124.6 L1213.1,2122.1 L1214.7,2119.6 L1216.4,2117.1 L1217.9,2114.5 L1219.4,2111.9 L1220.8,2109.3 L1222.1,2106.6 L1223.3,2103.9 L1224.5,2101.1 L1225.5,2098.3 L1226.5,2095.5 L1227.5,2092.7 L1228.5,2089.8 L1229.5,2087.0 L1230.6,2084.2 L1231.7,2081.4 L1232.8,2078.7 L1233.9,2075.9 L1235.1,2073.1 L1236.2,2070.3 L1237.4,2067.6 L1238.5,2064.8 L1239.7,2062.0 L1240.8,2059.2 L1241.8,2056.4 L1242.8,2053.6 L1243.8,2050.8 L1244.7,2047.9 L1245.5,2045.0 L1246.3,2042.2 L1247.1,2039.3 L1248.0,2036.4 L1248.8,2033.5 L1249.6,2030.6 L1250.5,2027.7 L1251.3,2024.9 L1252.2,2022.0 L1253.0,2019.1 L1253.9,2016.2 L1254.7,2013.4 L1255.6,2010.5 L1256.4,2007.6 L1257.3,2004.7 L1258.1,2001.8 L1258.9,1998.9 L1259.6,1996.0 L1260.3,1993.1 L1260.9,1990.2 L1261.6,1987.3 L1262.2,1984.3 L1262.9,1981.4 L1263.6,1978.5 L1264.2,1975.6 L1264.9,1972.6 L1265.5,1969.7 L1266.2,1966.8 L1266.8,1963.8 L1267.4,1960.9 L1268.0,1958.0 L1268.6,1955.0 L1269.2,1952.1 L1269.8,1949.2 L1270.5,1946.2 L1271.1,1943.3 L1271.8,1940.4 L1272.4,1937.4 L1273.0,1934.5 L1273.7,1931.6 L1274.3,1928.6 L1274.9,1925.7 L1275.6,1922.8 L1276.2,1919.8 L1276.8,1916.9 L1277.4,1914.0 L1278.0,1911.0 L1278.5,1908.1 L1279.1,1905.1 L1279.7,1902.2 L1280.2,1899.2 L1280.8,1896.3 L1281.4,1893.3 L1282.0,1890.4 L1282.6,1887.5 L1283.2,1884.5 L1283.8,1881.6 L1284.5,1878.7 L1285.2,1875.8 L1285.9,1872.9 L1286.6,1869.9 L1287.3,1867.0 L1287.9,1864.1 L1288.4,1861.1 L1288.9,1858.2 L1289.4,1855.2 L1289.9,1852.3 L1290.4,1849.3 L1291.0,1846.4 L1291.6,1843.4 L1292.2,1840.5 L1292.8,1837.6 L1293.4,1834.6 L1293.9,1831.7 L1294.5,1828.7 L1295.1,1825.8 L1295.6,1822.8 L1296.2,1819.9 L1296.7,1816.9 L1297.3,1814.0 L1297.8,1811.0 L1298.4,1808.1 L1298.9,1805.1 L1299.5,1802.2 L1300.0,1799.2 L1300.5,1796.3 L1301.0,1793.3 L1301.5,1790.4 L1302.0,1787.4 L1302.5,1784.5 L1303.1,1781.5 L1303.6,1778.6 L1304.2,1775.6 L1304.8,1772.7 L1305.4,1769.7 L1306.0,1766.8 L1306.7,1763.9 L1307.4,1761.0 L1308.0,1758.0 L1308.7,1755.1 L1309.3,1752.2 L1310.0,1749.3 L1310.6,1746.3 L1311.2,1743.4 L1311.8,1740.5 L1312.4,1737.5 L1313.0,1734.6 L1313.5,1731.6 L1314.1,1728.7 L1314.7,1725.7 L1315.3,1722.8 L1315.9,1719.9 L1316.6,1716.9 L1317.3,1714.0 L1317.9,1711.1 L1318.7,1708.2 L1319.4,1705.3 L1320.1,1702.4 L1320.9,1699.5 L1321.6,1696.6 L1322.4,1693.7 L1323.1,1690.8 L1323.9,1687.9 L1324.7,1684.9 L1325.4,1682.0 L1326.2,1679.1 L1327.0,1676.2 L1327.7,1673.3 L1328.5,1670.4 L1329.3,1667.5 L1330.0,1664.7 L1330.8,1661.8 L1331.7,1658.9 L1332.5,1656.0 L1333.4,1653.1 L1334.4,1650.3 L1335.3,1647.4 L1336.3,1644.6 L1337.2,1641.8 L1338.2,1638.9 L1339.2,1636.1 L1340.2,1633.3 L1341.2,1630.4 L1342.2,1627.6 L1343.3,1624.8 L1344.4,1622.1 L1345.5,1619.3 L1346.6,1616.5 L1347.8,1613.8 L1348.9,1611.0 L1350.0,1608.2 L1351.2,1605.5 L1352.4,1602.8 L1353.7,1600.1 L1355.1,1597.4 L1356.5,1594.8 L1358.0,1592.2 L1359.6,1589.6 L1361.1,1587.1 L1362.8,1584.5 L1364.4,1582.1 L1366.1,1579.6 L1367.9,1577.2 L1369.7,1574.8 L1371.6,1572.5 L1373.6,1570.3 L1375.6,1568.1 L1377.8,1566.0 L1380.0,1564.0 L1382.2,1562.0 L1384.5,1560.1 L1386.8,1558.2 L1389.2,1556.4 L1391.7,1554.7 L1394.2,1553.1 L1396.7,1551.5 L1399.3,1550.1 L1402.0,1548.6 L1404.7,1547.3 L1407.4,1546.1 L1410.1,1544.9 L1412.9,1543.8 L1415.7,1542.7 L1418.5,1541.7 L1421.4,1540.8 L1424.2,1540.0 L1427.1,1539.2 L1430.0,1538.5 L1433.0,1537.9 L1435.9,1537.2 L1438.8,1536.6 L1441.8,1536.0 L1444.7,1535.5 L1447.7,1535.0 L1450.6,1534.5 L1453.6,1534.0 L1456.6,1533.6 L1459.5,1533.2 L1462.5,1532.8 L1465.5,1532.5 L1468.5,1532.1 L1471.5,1531.8 L1474.4,1531.5 L1477.4,1531.2 L1480.4,1530.9 L1483.4,1530.6 L1486.4,1530.3 L1489.4,1530.0 L1492.3,1529.7 L1495.3,1529.4 L1498.3,1529.1 L1501.3,1528.9 L1504.3,1528.6 L1507.3,1528.4 L1510.3,1528.1 L1513.3,1527.9 L1516.3,1527.6 L1519.2,1527.3 L1522.2,1527.1 L1525.2,1526.8 L1528.2,1526.5 L1531.2,1526.3 L1534.2,1526.0 L1537.2,1525.7 L1540.2,1525.5 L1543.1,1525.2 L1546.1,1524.9 L1549.1,1524.6 L1552.1,1524.4 L1555.1,1524.1 L1558.1,1523.8 L1561.1,1523.5 L1564.1,1523.2 L1567.0,1522.9 L1570.0,1522.6 L1573.0,1522.3 L1576.0,1521.9 L1579.0,1521.6 L1581.9,1521.3 L1584.9,1520.9 L1587.9,1520.6 L1590.9,1520.3 L1593.9,1519.9 L1596.9,1519.6 L1599.8,1519.2 L1602.8,1518.9 L1605.8,1518.5 L1608.8,1518.1 L1611.7,1517.6 L1614.7,1517.2 L1617.7,1516.8 L1620.6,1516.3 L1623.6,1515.9 L1626.5,1515.4 L1629.5,1514.9 L1632.4,1514.3 L1635.4,1513.7 L1638.3,1513.0 L1641.2,1512.2 L1644.1,1511.4 L1646.9,1510.5 L1649.7,1509.6 L1652.5,1508.5 L1655.2,1507.3 L1657.9,1506.0 L1660.5,1504.6 L1663.0,1503.0 L1665.4,1501.5 L1667.6,1499.9 L1669.6,1498.5 L1671.2,1497.2 L1674.1,1494.9 L1674.1,1494.9" stroke="#ff0000"/>
</g>
<text transform="translate(359.5,1864.2) scale(1,1.04)" font-size="58" text-anchor="start" fill="#000" >ORR / 1600 rpm</text>
<text transform="translate(358.5,1936) scale(1,1.04)" font-size="58">Co<tspan font-size="48" dy="18">cryst</tspan><tspan dy="-18">-Pt</tspan></text>
<line x1="358" y1="2007.4" x2="489" y2="2007.4" stroke="#626262" stroke-width="9" stroke-linecap="round"/>
<text transform="translate(505.0,2027.5) scale(1,1.04)" font-size="58" text-anchor="start" fill="#000" >Before</text>
<line x1="358" y1="2079.4" x2="489" y2="2079.4" stroke="#ff0000" stroke-width="9" stroke-linecap="round"/>
<text transform="translate(505.0,2099.0) scale(1,1.04)" font-size="58" text-anchor="start" fill="#000" >After 5h CA stability</text>
<path d="M292.6,2885.46 L292.6,4049.48 L1722.2,4049.48" fill="none" stroke="#000" stroke-width="4.8" stroke-linejoin="miter" stroke-linecap="square"/>
<line x1="292.6" y1="2975.0" x2="315.6" y2="2975.0" stroke="#000" stroke-width="4.6" stroke-linecap="round"/>
<line x1="292.6" y1="3154.08" x2="315.6" y2="3154.08" stroke="#000" stroke-width="4.6" stroke-linecap="round"/>
<line x1="292.6" y1="3333.16" x2="315.6" y2="3333.16" stroke="#000" stroke-width="4.6" stroke-linecap="round"/>
<line x1="292.6" y1="3512.24" x2="315.6" y2="3512.24" stroke="#000" stroke-width="4.6" stroke-linecap="round"/>
<line x1="292.6" y1="3691.32" x2="315.6" y2="3691.32" stroke="#000" stroke-width="4.6" stroke-linecap="round"/>
<line x1="292.6" y1="3870.4" x2="315.6" y2="3870.4" stroke="#000" stroke-width="4.6" stroke-linecap="round"/>
<line x1="292.6" y1="2885.46" x2="304.6" y2="2885.46" stroke="#000" stroke-width="4.6" stroke-linecap="round"/>
<line x1="292.6" y1="3064.54" x2="304.6" y2="3064.54" stroke="#000" stroke-width="4.6" stroke-linecap="round"/>
<line x1="292.6" y1="3243.62" x2="304.6" y2="3243.62" stroke="#000" stroke-width="4.6" stroke-linecap="round"/>
<line x1="292.6" y1="3422.7" x2="304.6" y2="3422.7" stroke="#000" stroke-width="4.6" stroke-linecap="round"/>
<line x1="292.6" y1="3601.78" x2="304.6" y2="3601.78" stroke="#000" stroke-width="4.6" stroke-linecap="round"/>
<line x1="292.6" y1="3780.86" x2="304.6" y2="3780.86" stroke="#000" stroke-width="4.6" stroke-linecap="round"/>
<line x1="292.6" y1="3959.94" x2="304.6" y2="3959.94" stroke="#000" stroke-width="4.6" stroke-linecap="round"/>
<line x1="530.86" y1="4049.48" x2="530.86" y2="4026.48" stroke="#000" stroke-width="4.6" stroke-linecap="round"/>
<line x1="769.12" y1="4049.48" x2="769.12" y2="4026.48" stroke="#000" stroke-width="4.6" stroke-linecap="round"/>
<line x1="1007.38" y1="4049.48" x2="1007.38" y2="4026.48" stroke="#000" stroke-width="4.6" stroke-linecap="round"/>
<line x1="1245.64" y1="4049.48" x2="1245.64" y2="4026.48" stroke="#000" stroke-width="4.6" stroke-linecap="round"/>
<line x1="1483.9" y1="4049.48" x2="1483.9" y2="4026.48" stroke="#000" stroke-width="4.6" stroke-linecap="round"/>
<line x1="1722.16" y1="4049.48" x2="1722.16" y2="4026.48" stroke="#000" stroke-width="4.6" stroke-linecap="round"/>
<line x1="411.73" y1="4049.48" x2="411.73" y2="4037.48" stroke="#000" stroke-width="4.6" stroke-linecap="round"/>
<line x1="649.99" y1="4049.48" x2="649.99" y2="4037.48" stroke="#000" stroke-width="4.6" stroke-linecap="round"/>
<line x1="888.25" y1="4049.48" x2="888.25" y2="4037.48" stroke="#000" stroke-width="4.6" stroke-linecap="round"/>
<line x1="1126.51" y1="4049.48" x2="1126.51" y2="4037.48" stroke="#000" stroke-width="4.6" stroke-linecap="round"/>
<line x1="1364.77" y1="4049.48" x2="1364.77" y2="4037.48" stroke="#000" stroke-width="4.6" stroke-linecap="round"/>
<line x1="1603.03" y1="4049.48" x2="1603.03" y2="4037.48" stroke="#000" stroke-width="4.6" stroke-linecap="round"/>
<text transform="translate(268.0,2996.6) scale(1,1.04)" font-size="70" text-anchor="end" fill="#000" >0.0</text>
<text transform="translate(268.0,3175.7) scale(1,1.04)" font-size="70" text-anchor="end" fill="#000" >-1.0</text>
<text transform="translate(268.0,3354.8) scale(1,1.04)" font-size="70" text-anchor="end" fill="#000" >-2.0</text>
<text transform="translate(268.0,3533.8) scale(1,1.04)" font-size="70" text-anchor="end" fill="#000" >-3.0</text>
<text transform="translate(268.0,3712.9) scale(1,1.04)" font-size="70" text-anchor="end" fill="#000" >-4.0</text>
<text transform="translate(268.0,3892.0) scale(1,1.04)" font-size="70" text-anchor="end" fill="#000" >-5.0</text>
<text transform="translate(268.0,4071.1) scale(1,1.04)" font-size="70" text-anchor="end" fill="#000" >-6.0</text>
<text transform="translate(292.6,4127.5) scale(1,1.04)" font-size="70" text-anchor="middle" fill="#000" >0.0</text>
<text transform="translate(530.9,4127.5) scale(1,1.04)" font-size="70" text-anchor="middle" fill="#000" >0.2</text>
<text transform="translate(769.1,4127.5) scale(1,1.04)" font-size="70" text-anchor="middle" fill="#000" >0.4</text>
<text transform="translate(1007.4,4127.5) scale(1,1.04)" font-size="70" text-anchor="middle" fill="#000" >0.6</text>
<text transform="translate(1245.6,4127.5) scale(1,1.04)" font-size="70" text-anchor="middle" fill="#000" >0.8</text>
<text transform="translate(1483.9,4127.5) scale(1,1.04)" font-size="70" text-anchor="middle" fill="#000" >1.0</text>
<text transform="translate(1722.2,4127.5) scale(1,1.04)" font-size="70" text-anchor="middle" fill="#000" >1.2</text>
<text transform="translate(826,4252.5) scale(1,1.04)" font-size="70"><tspan font-style="italic">E</tspan> (V) <tspan font-style="italic" dx="-2">vs.</tspan><tspan dx="-11"> RHE</tspan></text>
<text transform="translate(115.1,3635) rotate(-90) scale(1,1.04)" font-size="70"><tspan font-style="italic">j</tspan> (mA cm<tspan font-size="58" dy="-33">-2</tspan><tspan dy="33">)</tspan></text>
<text x="347.6 393.5 459.5" y="3014.3" font-size="124.5">(c)</text>
<g fill="none" stroke-width="9.6" stroke-linejoin="round" stroke-linecap="round">
<path d="M533.0,3970.1 L536.0,3970.0 L539.0,3970.0 L542.0,3969.9 L545.0,3969.9 L548.0,3969.6 L550.9,3968.9 L553.8,3968.1 L556.6,3967.3 L559.5,3966.4 L562.4,3965.7 L565.4,3965.5 L568.4,3965.5 L571.4,3965.5 L574.4,3965.5 L577.3,3965.1 L580.3,3964.5 L583.2,3963.9 L586.1,3963.2 L589.0,3962.4 L591.6,3961.0 L594.2,3959.5 L596.8,3958.0 L599.5,3956.6 L602.3,3955.7 L605.2,3955.1 L608.1,3954.4 L611.1,3953.8 L613.9,3952.8 L616.6,3951.5 L619.3,3950.2 L622.0,3948.8 L624.7,3947.8 L627.7,3947.4 L630.7,3947.1 L633.7,3946.8 L636.6,3946.4 L639.6,3946.1 L642.6,3945.8 L645.6,3945.5 L648.6,3945.2 L651.6,3944.9 L654.5,3944.6 L657.5,3944.3 L660.5,3944.0 L663.5,3943.8 L666.5,3943.5 L669.5,3943.3 L672.5,3943.0 L675.5,3942.8 L678.5,3942.6 L681.4,3942.4 L684.4,3942.6 L687.4,3943.0 L690.4,3943.4 L693.4,3943.7 L696.3,3944.2 L699.2,3944.9 L702.1,3945.7 L705.0,3946.5 L707.9,3947.3 L710.7,3947.3 L713.6,3946.3 L716.4,3945.4 L719.2,3944.4 L722.1,3943.6 L725.0,3942.9 L728.0,3942.2 L730.9,3941.5 L733.8,3940.8 L736.7,3940.2 L739.7,3939.6 L742.6,3939.0 L745.6,3938.5 L748.5,3937.9 L751.5,3937.3 L754.4,3936.7 L757.3,3936.1 L760.3,3935.5 L763.2,3934.9 L766.2,3934.4 L769.1,3933.8 L772.0,3933.2 L775.0,3932.6 L777.9,3932.0 L780.9,3931.4 L783.8,3930.9 L786.8,3930.3 L789.7,3929.7 L792.7,3929.3 L795.6,3928.8 L798.6,3928.4 L801.6,3927.9 L804.5,3927.5 L807.5,3927.0 L810.5,3926.6 L813.4,3926.2 L816.4,3925.7 L819.4,3925.3 L822.3,3924.8 L825.3,3924.4 L828.3,3923.9 L831.2,3923.5 L834.2,3923.1 L837.2,3922.7 L840.2,3922.2 L843.1,3921.8 L846.1,3921.4 L849.1,3921.0 L852.0,3920.4 L854.9,3919.6 L857.8,3918.8 L860.6,3917.9 L863.5,3917.0 L866.4,3916.2 L869.3,3915.4 L872.2,3914.9 L875.2,3914.6 L878.2,3914.3 L881.2,3914.1 L884.2,3913.8 L887.2,3913.6 L890.1,3913.3 L893.1,3912.8 L895.9,3911.9 L898.8,3910.9 L901.6,3909.9 L904.4,3909.0 L907.3,3908.0 L910.1,3907.3 L913.1,3907.2 L916.1,3907.2 L919.1,3907.3 L922.0,3907.1 L924.9,3906.3 L927.7,3905.3 L930.5,3904.2 L933.2,3903.1 L936.0,3902.0 L938.8,3900.9 L941.6,3899.8 L944.4,3898.7 L947.2,3897.5 L950.0,3896.4 L952.7,3895.3 L955.5,3894.2 L958.3,3893.1 L961.1,3892.0 L963.9,3890.9 L966.7,3889.7 L969.5,3888.6 L972.2,3887.5 L975.0,3886.4 L977.8,3885.2 L980.5,3884.0 L983.3,3882.9 L986.1,3881.7 L988.8,3880.5 L991.6,3879.4 L994.4,3878.2 L997.1,3877.0 L999.9,3875.8 L1002.6,3874.6 L1005.3,3873.4 L1008.1,3872.1 L1010.8,3870.9 L1013.5,3869.6 L1016.2,3868.3 L1018.9,3867.0 L1021.6,3865.7 L1024.4,3864.5 L1027.1,3863.2 L1029.8,3862.0 L1032.6,3860.8 L1035.4,3859.7 L1038.2,3858.7 L1041.0,3857.7 L1043.8,3856.7 L1046.7,3855.7 L1049.5,3854.8 L1052.4,3853.8 L1055.2,3852.9 L1058.1,3852.0 L1060.9,3851.1 L1063.8,3850.2 L1066.7,3849.3 L1069.5,3848.4 L1072.4,3847.6 L1075.3,3846.7 L1078.1,3845.8 L1081.0,3845.0 L1083.9,3844.1 L1086.8,3843.2 L1089.6,3842.3 L1092.5,3841.4 L1095.3,3840.5 L1098.1,3839.5 L1101.0,3838.5 L1103.8,3837.4 L1106.6,3836.4 L1109.4,3835.3 L1112.2,3834.4 L1115.1,3833.5 L1117.9,3832.7 L1120.8,3832.0 L1123.8,3831.3 L1126.7,3830.7 L1129.6,3830.0 L1132.5,3829.3 L1135.3,3828.4 L1138.2,3827.5 L1141.0,3826.5 L1143.7,3825.3 L1146.5,3824.1 L1149.2,3822.9 L1151.8,3821.5 L1154.4,3820.0 L1157.0,3818.5 L1159.5,3816.9 L1162.0,3815.2 L1164.4,3813.5 L1166.9,3811.7 L1169.3,3810.0 L1171.8,3808.2 L1174.2,3806.5 L1176.6,3804.7 L1179.0,3802.9 L1181.4,3801.1 L1183.8,3799.2 L1186.1,3797.4 L1188.4,3795.5 L1190.7,3793.6 L1193.0,3791.6 L1195.2,3789.6 L1197.4,3787.5 L1199.5,3785.5 L1201.6,3783.3 L1203.6,3781.1 L1205.5,3778.8 L1207.4,3776.5 L1209.1,3774.0 L1210.8,3771.6 L1212.4,3769.1 L1214.0,3766.5 L1215.5,3763.9 L1216.9,3761.3 L1218.3,3758.6 L1219.6,3756.0 L1220.9,3753.2 L1222.1,3750.5 L1223.3,3747.8 L1224.5,3745.0 L1225.7,3742.3 L1226.9,3739.5 L1228.0,3736.7 L1229.1,3733.9 L1230.2,3731.1 L1231.3,3728.3 L1232.3,3725.5 L1233.4,3722.7 L1234.3,3719.9 L1235.3,3717.0 L1236.3,3714.2 L1237.3,3711.4 L1238.3,3708.6 L1239.3,3705.8 L1240.5,3703.0 L1241.7,3700.2 L1242.9,3697.5 L1244.1,3694.8 L1245.3,3692.1 L1246.4,3689.3 L1247.4,3686.5 L1248.3,3683.6 L1249.1,3680.8 L1249.9,3677.9 L1250.7,3675.0 L1251.5,3672.1 L1252.2,3669.2 L1252.9,3666.3 L1253.7,3663.4 L1254.4,3660.4 L1255.1,3657.5 L1255.7,3654.6 L1256.4,3651.7 L1257.1,3648.7 L1257.7,3645.8 L1258.4,3642.9 L1259.0,3640.0 L1259.7,3637.0 L1260.4,3634.1 L1261.0,3631.2 L1261.7,3628.3 L1262.3,3625.3 L1263.0,3622.4 L1263.6,3619.5 L1264.3,3616.5 L1264.9,3613.6 L1265.5,3610.7 L1266.1,3607.7 L1266.7,3604.8 L1267.3,3601.9 L1267.9,3598.9 L1268.5,3596.0 L1269.1,3593.0 L1269.7,3590.1 L1270.4,3587.2 L1271.1,3584.3 L1271.8,3581.3 L1272.5,3578.4 L1273.2,3575.5 L1274.0,3572.6 L1274.7,3569.7 L1275.4,3566.8 L1276.2,3563.9 L1276.8,3561.0 L1277.5,3558.0 L1278.1,3555.1 L1278.7,3552.2 L1279.3,3549.2 L1279.9,3546.3 L1280.4,3543.3 L1281.0,3540.4 L1281.5,3537.4 L1282.0,3534.5 L1282.6,3531.5 L1283.1,3528.6 L1283.6,3525.6 L1284.1,3522.7 L1284.6,3519.7 L1285.1,3516.7 L1285.7,3513.8 L1286.2,3510.8 L1286.7,3507.9 L1287.2,3504.9 L1287.7,3502.0 L1288.2,3499.0 L1288.8,3496.1 L1289.3,3493.1 L1289.8,3490.2 L1290.4,3487.2 L1290.9,3484.3 L1291.5,3481.3 L1292.1,3478.4 L1292.6,3475.4 L1293.2,3472.5 L1293.8,3469.5 L1294.3,3466.6 L1294.9,3463.6 L1295.4,3460.7 L1295.9,3457.7 L1296.5,3454.8 L1297.0,3451.8 L1297.6,3448.9 L1298.1,3445.9 L1298.6,3443.0 L1299.2,3440.0 L1299.7,3437.1 L1300.2,3434.1 L1300.8,3431.2 L1301.3,3428.2 L1301.8,3425.3 L1302.3,3422.3 L1302.8,3419.3 L1303.4,3416.4 L1303.9,3413.4 L1304.4,3410.5 L1305.0,3407.5 L1305.5,3404.6 L1306.1,3401.6 L1306.6,3398.7 L1307.2,3395.7 L1307.8,3392.8 L1308.4,3389.9 L1308.9,3386.9 L1309.5,3384.0 L1310.0,3381.0 L1310.6,3378.1 L1311.1,3375.1 L1311.7,3372.2 L1312.3,3369.2 L1312.9,3366.3 L1313.5,3363.4 L1314.1,3360.4 L1314.8,3357.5 L1315.4,3354.6 L1316.1,3351.6 L1316.7,3348.7 L1317.3,3345.8 L1317.9,3342.8 L1318.4,3339.9 L1319.0,3336.9 L1319.6,3334.0 L1320.1,3331.0 L1320.7,3328.1 L1321.2,3325.1 L1321.8,3322.2 L1322.3,3319.2 L1322.9,3316.3 L1323.5,3313.3 L1324.0,3310.4 L1324.6,3307.5 L1325.1,3304.5 L1325.7,3301.6 L1326.3,3298.6 L1327.0,3295.7 L1327.6,3292.8 L1328.2,3289.8 L1328.8,3286.9 L1329.4,3283.9 L1330.0,3281.0 L1330.6,3278.1 L1331.2,3275.1 L1331.8,3272.2 L1332.4,3269.3 L1333.0,3266.3 L1333.7,3263.4 L1334.3,3260.4 L1334.9,3257.5 L1335.6,3254.6 L1336.2,3251.7 L1336.9,3248.7 L1337.6,3245.8 L1338.3,3242.9 L1339.0,3240.0 L1339.7,3237.1 L1340.5,3234.2 L1341.2,3231.3 L1342.0,3228.4 L1342.7,3225.5 L1343.5,3222.6 L1344.2,3219.6 L1344.9,3216.7 L1345.6,3213.8 L1346.3,3210.9 L1347.0,3208.0 L1347.7,3205.1 L1348.5,3202.2 L1349.2,3199.3 L1350.0,3196.3 L1350.7,3193.4 L1351.5,3190.6 L1352.3,3187.7 L1353.1,3184.8 L1354.0,3181.9 L1354.9,3179.0 L1355.8,3176.2 L1356.7,3173.3 L1357.6,3170.5 L1358.5,3167.6 L1359.4,3164.7 L1360.3,3161.9 L1361.2,3159.0 L1362.0,3156.1 L1362.9,3153.3 L1363.8,3150.4 L1364.7,3147.5 L1365.6,3144.7 L1366.5,3141.8 L1367.4,3139.0 L1368.4,3136.1 L1369.3,3133.3 L1370.3,3130.4 L1371.3,3127.6 L1372.4,3124.8 L1373.4,3122.0 L1374.5,3119.2 L1375.6,3116.4 L1376.8,3113.7 L1377.9,3110.9 L1379.1,3108.1 L1380.4,3105.4 L1381.6,3102.7 L1382.8,3099.9 L1384.0,3097.2 L1385.2,3094.4 L1386.3,3091.6 L1387.4,3088.9 L1388.5,3086.1 L1389.6,3083.3 L1390.8,3080.5 L1391.9,3077.7 L1393.1,3075.0 L1394.4,3072.3 L1395.6,3069.6 L1397.0,3066.9 L1398.3,3064.2 L1399.7,3061.5 L1401.1,3058.9 L1402.5,3056.2 L1404.0,3053.6 L1405.5,3051.0 L1407.0,3048.4 L1408.5,3045.9 L1410.2,3043.3 L1411.8,3040.9 L1413.6,3038.4 L1415.4,3036.1 L1417.2,3033.7 L1419.1,3031.4 L1421.1,3029.1 L1423.1,3026.8 L1425.1,3024.6 L1427.1,3022.5 L1429.3,3020.4 L1431.5,3018.3 L1433.7,3016.3 L1436.0,3014.4 L1438.3,3012.5 L1440.6,3010.6 L1443.0,3008.8 L1445.3,3006.9 L1447.7,3005.1 L1450.1,3003.3 L1452.6,3001.6 L1455.1,3000.0 L1457.6,2998.4 L1460.2,2996.8 L1462.8,2995.4 L1465.4,2993.9 L1468.1,2992.6 L1470.8,2991.2 L1473.5,2990.0 L1476.2,2988.8 L1479.0,2987.6 L1481.8,2986.4 L1484.5,2985.3 L1487.3,2984.2 L1490.1,2983.1 L1492.9,2982.0 L1495.7,2981.0 L1498.6,2980.0 L1501.4,2979.0 L1504.2,2978.1 L1507.1,2977.1 L1509.9,2976.2 L1512.8,2975.3 L1515.6,2974.3 L1518.5,2973.4 L1521.4,2972.5 L1524.2,2971.6 L1527.1,2970.6 L1529.9,2969.7 L1532.7,2968.7 L1535.6,2967.7 L1538.4,2966.7 L1541.2,2965.7 L1544.0,2964.6 L1546.8,2963.5 L1549.6,2962.3 L1552.3,2961.1 L1554.9,2959.8 L1557.5,2958.3 L1560.0,2956.8 L1562.4,2955.1 L1564.6,2953.5 L1566.5,2951.9 L1568.2,2950.5 L1571.3,2947.6 L1571.3,2947.6" stroke="#626262"/>
<path d="M533.0,3859.6 L536.2,3859.4 L539.0,3859.2 L542.0,3859.1 L545.0,3858.9 L548.0,3858.6 L551.0,3858.3 L553.9,3858.0 L556.9,3857.6 L559.9,3857.3 L562.9,3856.9 L565.8,3856.5 L568.8,3855.9 L571.7,3855.3 L574.6,3854.6 L577.5,3853.9 L580.5,3853.2 L583.4,3852.5 L586.2,3851.5 L588.9,3850.2 L591.6,3848.9 L594.3,3847.6 L597.0,3846.3 L599.7,3845.1 L602.5,3844.0 L605.3,3843.0 L608.1,3841.9 L610.9,3840.8 L613.8,3839.8 L616.6,3838.8 L619.4,3837.8 L622.2,3836.8 L625.1,3835.8 L627.9,3834.8 L630.6,3833.6 L633.2,3832.2 L635.7,3830.6 L638.2,3828.9 L640.8,3827.4 L643.5,3826.2 L646.3,3825.1 L649.1,3824.1 L652.0,3823.2 L654.9,3822.4 L657.8,3821.7 L660.7,3821.2 L663.7,3820.6 L666.6,3820.1 L669.6,3819.6 L672.5,3819.1 L675.5,3818.7 L678.5,3818.2 L681.4,3817.8 L684.4,3817.3 L687.4,3816.8 L690.3,3816.3 L693.3,3815.7 L696.2,3815.1 L699.1,3814.5 L702.1,3813.9 L705.0,3813.4 L708.0,3812.9 L711.0,3812.5 L714.0,3812.1 L716.9,3811.7 L719.9,3811.2 L722.8,3810.5 L725.7,3809.8 L728.6,3809.0 L731.5,3808.3 L734.4,3807.7 L737.4,3807.3 L740.4,3807.0 L743.3,3806.7 L746.3,3806.3 L749.3,3806.0 L752.3,3805.7 L755.3,3805.4 L758.3,3805.1 L761.2,3804.8 L764.2,3804.4 L767.2,3804.0 L770.2,3803.6 L773.1,3803.2 L776.1,3802.7 L779.0,3802.1 L781.9,3801.5 L784.8,3800.7 L787.7,3799.9 L790.6,3799.1 L793.5,3798.4 L796.4,3797.7 L799.3,3797.2 L802.3,3796.6 L805.2,3796.2 L808.2,3795.8 L811.2,3795.4 L814.2,3795.0 L817.1,3794.7 L820.1,3794.3 L823.1,3793.9 L826.1,3793.5 L829.0,3793.0 L832.0,3792.6 L835.0,3792.2 L837.9,3791.7 L840.9,3791.2 L843.8,3790.8 L846.8,3790.3 L849.8,3789.8 L852.7,3789.4 L855.7,3788.8 L858.6,3788.3 L861.6,3787.8 L864.5,3787.2 L867.5,3786.6 L870.4,3786.0 L873.3,3785.3 L876.3,3784.7 L879.2,3784.1 L882.2,3783.5 L885.1,3782.9 L888.0,3782.3 L891.0,3781.7 L893.9,3781.0 L896.7,3780.3 L899.5,3779.3 L902.3,3778.3 L905.0,3777.1 L907.7,3775.8 L910.4,3774.4 L913.0,3773.0 L915.6,3771.5 L918.2,3770.1 L920.9,3768.6 L923.5,3767.1 L926.1,3765.6 L928.6,3764.1 L931.2,3762.5 L933.8,3761.0 L936.4,3759.5 L938.9,3757.9 L941.5,3756.3 L944.0,3754.7 L946.5,3753.0 L948.9,3751.3 L951.3,3749.5 L953.6,3747.6 L955.9,3745.7 L958.2,3743.8 L960.5,3741.8 L962.8,3739.9 L965.1,3737.9 L967.4,3736.0 L969.6,3734.0 L971.9,3732.1 L974.2,3730.2 L976.6,3728.3 L978.9,3726.4 L981.3,3724.6 L983.6,3722.7 L986.0,3720.8 L988.3,3719.0 L990.7,3717.1 L993.1,3715.3 L995.4,3713.4 L997.8,3711.6 L1000.1,3709.7 L1002.5,3707.9 L1004.8,3706.0 L1007.2,3704.2 L1009.6,3702.3 L1011.9,3700.4 L1014.3,3698.6 L1016.6,3696.7 L1019.0,3694.9 L1021.4,3693.1 L1023.8,3691.3 L1026.3,3689.6 L1028.8,3688.0 L1031.3,3686.4 L1033.9,3684.9 L1036.5,3683.4 L1039.1,3681.9 L1041.7,3680.5 L1044.3,3679.0 L1047.0,3677.5 L1049.6,3676.1 L1052.2,3674.6 L1054.9,3673.3 L1057.5,3671.9 L1060.3,3670.7 L1063.0,3669.6 L1065.8,3668.5 L1068.6,3667.5 L1071.5,3666.5 L1074.3,3665.5 L1077.1,3664.4 L1079.8,3663.3 L1082.6,3662.1 L1085.3,3660.9 L1088.0,3659.6 L1090.7,3658.2 L1093.3,3656.8 L1095.9,3655.3 L1098.5,3653.9 L1101.2,3652.4 L1103.8,3650.9 L1106.4,3649.4 L1109.0,3647.9 L1111.5,3646.4 L1114.1,3644.9 L1116.7,3643.3 L1119.3,3641.8 L1121.9,3640.2 L1124.4,3638.7 L1127.0,3637.2 L1129.6,3635.6 L1132.2,3634.1 L1134.7,3632.6 L1137.4,3631.1 L1140.0,3629.7 L1142.6,3628.3 L1145.3,3626.9 L1148.0,3625.6 L1150.6,3624.2 L1153.2,3622.7 L1155.7,3621.1 L1158.1,3619.4 L1160.4,3617.5 L1162.7,3615.6 L1164.9,3613.6 L1167.1,3611.6 L1169.3,3609.5 L1171.4,3607.4 L1173.6,3605.3 L1175.7,3603.2 L1177.9,3601.1 L1180.0,3599.0 L1182.1,3596.9 L1184.3,3594.8 L1186.5,3592.7 L1188.6,3590.6 L1190.7,3588.5 L1192.8,3586.4 L1194.9,3584.2 L1197.0,3582.0 L1199.0,3579.8 L1201.0,3577.6 L1203.0,3575.3 L1204.9,3573.0 L1206.8,3570.7 L1208.6,3568.4 L1210.4,3565.9 L1212.1,3563.5 L1213.6,3561.0 L1215.1,3558.4 L1216.4,3555.7 L1217.7,3553.0 L1218.9,3550.3 L1220.1,3547.5 L1221.3,3544.8 L1222.5,3542.0 L1223.7,3539.2 L1224.8,3536.5 L1226.0,3533.7 L1227.2,3531.0 L1228.3,3528.2 L1229.5,3525.4 L1230.6,3522.6 L1231.8,3519.9 L1232.9,3517.1 L1234.0,3514.3 L1235.2,3511.5 L1236.2,3508.7 L1237.3,3505.9 L1238.3,3503.1 L1239.2,3500.3 L1240.2,3497.4 L1241.1,3494.5 L1241.9,3491.7 L1242.8,3488.8 L1243.7,3485.9 L1244.5,3483.1 L1245.4,3480.2 L1246.2,3477.3 L1247.1,3474.4 L1247.9,3471.5 L1248.8,3468.7 L1249.6,3465.8 L1250.5,3462.9 L1251.4,3460.1 L1252.3,3457.2 L1253.2,3454.3 L1254.0,3451.5 L1254.9,3448.6 L1255.7,3445.7 L1256.5,3442.8 L1257.2,3439.9 L1258.0,3437.0 L1258.7,3434.1 L1259.4,3431.2 L1260.1,3428.3 L1260.8,3425.3 L1261.5,3422.4 L1262.2,3419.5 L1262.8,3416.6 L1263.5,3413.6 L1264.1,3410.7 L1264.7,3407.8 L1265.4,3404.8 L1266.0,3401.9 L1266.6,3399.0 L1267.2,3396.0 L1267.9,3393.1 L1268.5,3390.2 L1269.1,3387.2 L1269.7,3384.3 L1270.3,3381.4 L1271.0,3378.4 L1271.6,3375.5 L1272.2,3372.6 L1272.9,3369.6 L1273.5,3366.7 L1274.2,3363.8 L1274.8,3360.8 L1275.5,3357.9 L1276.1,3355.0 L1276.8,3352.1 L1277.5,3349.1 L1278.1,3346.2 L1278.8,3343.3 L1279.4,3340.4 L1280.0,3337.4 L1280.6,3334.5 L1281.2,3331.5 L1281.8,3328.6 L1282.3,3325.6 L1282.8,3322.7 L1283.3,3319.7 L1283.8,3316.8 L1284.3,3313.8 L1284.9,3310.9 L1285.4,3307.9 L1285.9,3305.0 L1286.5,3302.0 L1287.0,3299.1 L1287.6,3296.1 L1288.2,3293.2 L1288.7,3290.2 L1289.3,3287.3 L1289.9,3284.3 L1290.4,3281.4 L1291.0,3278.4 L1291.5,3275.5 L1292.0,3272.5 L1292.6,3269.6 L1293.1,3266.6 L1293.7,3263.7 L1294.2,3260.7 L1294.8,3257.8 L1295.4,3254.8 L1296.0,3251.9 L1296.6,3249.0 L1297.2,3246.0 L1297.8,3243.1 L1298.4,3240.2 L1299.0,3237.2 L1299.6,3234.3 L1300.2,3231.3 L1300.8,3228.4 L1301.3,3225.4 L1301.9,3222.5 L1302.5,3219.6 L1303.1,3216.6 L1303.7,3213.7 L1304.2,3210.7 L1304.8,3207.8 L1305.4,3204.8 L1306.0,3201.9 L1306.6,3199.0 L1307.2,3196.0 L1307.9,3193.1 L1308.5,3190.2 L1309.1,3187.2 L1309.7,3184.3 L1310.4,3181.4 L1311.0,3178.4 L1311.7,3175.5 L1312.4,3172.6 L1313.0,3169.7 L1313.7,3166.7 L1314.4,3163.8 L1315.1,3160.9 L1315.8,3158.0 L1316.5,3155.1 L1317.2,3152.2 L1318.0,3149.2 L1318.7,3146.3 L1319.4,3143.4 L1320.1,3140.5 L1320.8,3137.6 L1321.6,3134.7 L1322.3,3131.8 L1323.1,3128.9 L1323.9,3126.0 L1324.7,3123.1 L1325.5,3120.2 L1326.3,3117.3 L1327.0,3114.4 L1327.7,3111.5 L1328.4,3108.6 L1329.1,3105.7 L1329.8,3102.8 L1330.5,3099.9 L1331.3,3097.0 L1332.1,3094.1 L1332.9,3091.2 L1333.8,3088.3 L1334.7,3085.5 L1335.6,3082.6 L1336.6,3079.8 L1337.6,3076.9 L1338.5,3074.1 L1339.5,3071.3 L1340.5,3068.4 L1341.5,3065.6 L1342.5,3062.8 L1343.5,3060.0 L1344.6,3057.2 L1345.8,3054.4 L1346.9,3051.6 L1348.2,3048.9 L1349.5,3046.2 L1350.8,3043.5 L1352.2,3040.9 L1353.7,3038.3 L1355.2,3035.7 L1356.7,3033.1 L1358.2,3030.5 L1359.8,3028.0 L1361.4,3025.4 L1363.0,3022.9 L1364.6,3020.4 L1366.3,3018.0 L1368.2,3015.6 L1370.1,3013.4 L1372.2,3011.2 L1374.4,3009.2 L1376.6,3007.3 L1379.0,3005.5 L1381.4,3003.8 L1383.8,3002.0 L1386.3,3000.3 L1388.7,2998.6 L1391.2,2996.9 L1393.7,2995.3 L1396.3,2993.8 L1398.9,2992.3 L1401.6,2991.0 L1404.3,2989.7 L1407.0,2988.5 L1409.8,2987.3 L1412.6,2986.3 L1415.4,2985.4 L1418.3,2984.5 L1421.1,2983.6 L1424.0,2982.9 L1426.9,2982.1 L1429.9,2981.4 L1432.8,2980.7 L1435.7,2980.0 L1438.6,2979.3 L1441.5,2978.7 L1444.5,2978.0 L1447.4,2977.4 L1450.3,2976.8 L1453.3,2976.2 L1456.2,2975.6 L1459.2,2975.0 L1462.1,2974.4 L1465.0,2973.8 L1468.0,2973.3 L1470.9,2972.7 L1473.9,2972.2 L1476.8,2971.7 L1479.8,2971.1 L1482.7,2970.6 L1485.7,2970.0 L1488.6,2969.4 L1491.6,2968.8 L1494.5,2968.1 L1497.4,2967.4 L1500.3,2966.7 L1503.2,2966.0 L1506.1,2965.2 L1509.0,2964.4 L1511.9,2963.6 L1514.7,2962.7 L1517.6,2961.7 L1520.4,2960.7 L1523.2,2959.7 L1526.1,2958.7 L1528.9,2957.7 L1531.7,2956.6 L1534.5,2955.6 L1537.3,2954.5 L1540.1,2953.4 L1542.8,2952.2 L1545.6,2951.0 L1548.3,2949.8 L1551.0,2948.5 L1553.7,2947.1 L1556.3,2945.6 L1558.8,2944.1 L1561.3,2942.5 L1563.7,2940.8 L1566.0,2939.0 L1568.2,2937.3 L1570.0,2935.7 L1571.6,2934.4 L1574.6,2931.7 L1574.6,2931.7" stroke="#ec0000"/>
</g>
<text transform="translate(395.0,3250.4) scale(1,1.04)" font-size="58" text-anchor="start" fill="#000" >ORR / 1600 rpm</text>
<text transform="translate(392,3322.8) scale(1,1.04)" font-size="58">Co<tspan font-size="48" dy="18">cryst</tspan><tspan dy="-18">-Pt</tspan></text>
<line x1="392.5" y1="3393" x2="523.5" y2="3393" stroke="#626262" stroke-width="9" stroke-linecap="round"/>
<text transform="translate(539.5,3413.0) scale(1,1.04)" font-size="58" text-anchor="start" fill="#000" >Before</text>
<line x1="392.5" y1="3464.4" x2="523.5" y2="3464.4" stroke="#ec0000" stroke-width="9" stroke-linecap="round"/>
<text transform="translate(539.5,3483.3) scale(1,1.04)" font-size="58" text-anchor="start" fill="#000" >After 2000 cycles</text>
</g></svg>
</body></html>
